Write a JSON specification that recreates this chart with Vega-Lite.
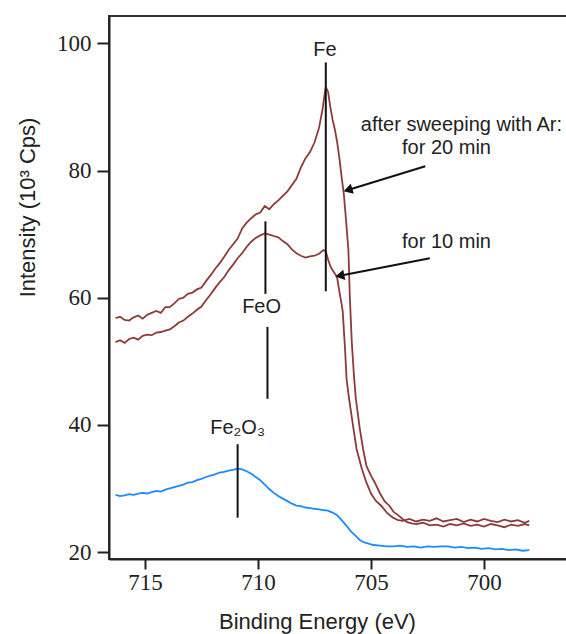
{
  "$schema": "https://vega.github.io/schema/vega-lite/v6.json",
  "autosize": "none",
  "padding": {"left": 109, "top": 16, "right": 0, "bottom": 75},
  "width": 458,
  "height": 543,
  "background": "white",
  "config": {
    "view": {"stroke": "#333", "strokeWidth": 2},
    "axis": {"grid": false, "domainColor": "#222", "domainWidth": 2, "tickColor": "#222", "tickWidth": 2, "labelFont": "Liberation Serif", "labelFontSize": 23, "labelColor": "#222", "titleFont": "Liberation Sans", "titleFontSize": 22, "titleFontWeight": "normal", "titleColor": "#222"}
  },
  "datasets": {
    "spectra": [
      {"E":716.3,"I":56.8,"s":"20 min"},{"E":716.1,"I":57.0,"s":"20 min"},{"E":715.9,"I":56.5,"s":"20 min"},{"E":715.7,"I":56.4,"s":"20 min"},{"E":715.5,"I":56.9,"s":"20 min"},{"E":715.3,"I":57.2,"s":"20 min"},{"E":715.1,"I":56.7,"s":"20 min"},{"E":714.9,"I":57.3,"s":"20 min"},{"E":714.7,"I":57.6,"s":"20 min"},{"E":714.5,"I":57.9,"s":"20 min"},{"E":714.3,"I":57.6,"s":"20 min"},{"E":714.1,"I":58.5,"s":"20 min"},{"E":713.9,"I":58.5,"s":"20 min"},{"E":713.7,"I":59.1,"s":"20 min"},{"E":713.5,"I":59.8,"s":"20 min"},{"E":713.3,"I":60.0,"s":"20 min"},{"E":713.1,"I":60.6,"s":"20 min"},{"E":712.9,"I":60.8,"s":"20 min"},{"E":712.7,"I":61.3,"s":"20 min"},{"E":712.5,"I":61.6,"s":"20 min"},{"E":712.3,"I":62.6,"s":"20 min"},{"E":712.1,"I":63.5,"s":"20 min"},{"E":711.9,"I":64.5,"s":"20 min"},{"E":711.7,"I":65.4,"s":"20 min"},{"E":711.5,"I":66.4,"s":"20 min"},{"E":711.3,"I":67.5,"s":"20 min"},{"E":711.1,"I":68.4,"s":"20 min"},{"E":710.9,"I":69.3,"s":"20 min"},{"E":710.7,"I":70.9,"s":"20 min"},{"E":710.5,"I":71.8,"s":"20 min"},{"E":710.3,"I":72.5,"s":"20 min"},{"E":710.1,"I":73.1,"s":"20 min"},{"E":709.9,"I":73.4,"s":"20 min"},{"E":709.7,"I":74.4,"s":"20 min"},{"E":709.5,"I":73.9,"s":"20 min"},{"E":709.3,"I":74.7,"s":"20 min"},{"E":709.1,"I":75.3,"s":"20 min"},{"E":708.9,"I":76.0,"s":"20 min"},{"E":708.7,"I":76.7,"s":"20 min"},{"E":708.5,"I":77.7,"s":"20 min"},{"E":708.3,"I":78.7,"s":"20 min"},{"E":708.1,"I":80.5,"s":"20 min"},{"E":707.9,"I":81.9,"s":"20 min"},{"E":707.7,"I":82.9,"s":"20 min"},{"E":707.5,"I":84.4,"s":"20 min"},{"E":707.3,"I":86.7,"s":"20 min"},{"E":707.15,"I":89.5,"s":"20 min"},{"E":707.05,"I":92.0,"s":"20 min"},{"E":707.0,"I":93.1,"s":"20 min"},{"E":706.9,"I":92.4,"s":"20 min"},{"E":706.8,"I":90.0,"s":"20 min"},{"E":706.7,"I":88.0,"s":"20 min"},{"E":706.6,"I":86.5,"s":"20 min"},{"E":706.5,"I":84.5,"s":"20 min"},{"E":706.4,"I":82.0,"s":"20 min"},{"E":706.3,"I":79.0,"s":"20 min"},{"E":706.2,"I":76.2,"s":"20 min"},{"E":706.1,"I":72.0,"s":"20 min"},{"E":706.0,"I":67.5,"s":"20 min"},{"E":705.94,"I":60.4,"s":"20 min"},{"E":705.85,"I":53.0,"s":"20 min"},{"E":705.75,"I":47.5,"s":"20 min"},{"E":705.67,"I":44.1,"s":"20 min"},{"E":705.5,"I":39.5,"s":"20 min"},{"E":705.35,"I":36.2,"s":"20 min"},{"E":705.2,"I":33.5,"s":"20 min"},{"E":705.0,"I":32.0,"s":"20 min"},{"E":704.83,"I":30.9,"s":"20 min"},{"E":704.6,"I":29.2,"s":"20 min"},{"E":704.4,"I":28.0,"s":"20 min"},{"E":704.17,"I":27.2,"s":"20 min"},{"E":704.0,"I":26.3,"s":"20 min"},{"E":703.8,"I":25.8,"s":"20 min"},{"E":703.6,"I":25.2,"s":"20 min"},{"E":703.4,"I":24.7,"s":"20 min"},{"E":703.2,"I":24.5,"s":"20 min"},{"E":703.0,"I":24.4,"s":"20 min"},{"E":702.7,"I":24.6,"s":"20 min"},{"E":702.4,"I":24.2,"s":"20 min"},{"E":702.1,"I":24.3,"s":"20 min"},{"E":701.8,"I":24.0,"s":"20 min"},{"E":701.5,"I":24.4,"s":"20 min"},{"E":701.2,"I":24.2,"s":"20 min"},{"E":700.9,"I":24.5,"s":"20 min"},{"E":700.6,"I":24.1,"s":"20 min"},{"E":700.3,"I":24.3,"s":"20 min"},{"E":700.0,"I":24.0,"s":"20 min"},{"E":699.7,"I":24.4,"s":"20 min"},{"E":699.4,"I":24.2,"s":"20 min"},{"E":699.1,"I":23.9,"s":"20 min"},{"E":698.8,"I":24.3,"s":"20 min"},{"E":698.5,"I":24.1,"s":"20 min"},{"E":698.2,"I":24.4,"s":"20 min"},{"E":698.0,"I":24.2,"s":"20 min"},

      {"E":716.3,"I":53.0,"s":"10 min"},{"E":716.1,"I":53.3,"s":"10 min"},{"E":715.9,"I":52.9,"s":"10 min"},{"E":715.7,"I":53.5,"s":"10 min"},{"E":715.5,"I":53.7,"s":"10 min"},{"E":715.3,"I":53.4,"s":"10 min"},{"E":715.1,"I":54.0,"s":"10 min"},{"E":714.9,"I":54.2,"s":"10 min"},{"E":714.7,"I":54.1,"s":"10 min"},{"E":714.5,"I":54.5,"s":"10 min"},{"E":714.3,"I":54.6,"s":"10 min"},{"E":714.1,"I":54.8,"s":"10 min"},{"E":713.9,"I":55.0,"s":"10 min"},{"E":713.7,"I":55.5,"s":"10 min"},{"E":713.5,"I":56.1,"s":"10 min"},{"E":713.3,"I":56.4,"s":"10 min"},{"E":713.1,"I":57.0,"s":"10 min"},{"E":712.9,"I":57.5,"s":"10 min"},{"E":712.7,"I":58.1,"s":"10 min"},{"E":712.5,"I":58.6,"s":"10 min"},{"E":712.3,"I":59.6,"s":"10 min"},{"E":712.1,"I":60.5,"s":"10 min"},{"E":711.9,"I":61.5,"s":"10 min"},{"E":711.7,"I":62.4,"s":"10 min"},{"E":711.5,"I":63.2,"s":"10 min"},{"E":711.3,"I":64.3,"s":"10 min"},{"E":711.1,"I":65.2,"s":"10 min"},{"E":710.9,"I":66.2,"s":"10 min"},{"E":710.7,"I":67.0,"s":"10 min"},{"E":710.5,"I":68.0,"s":"10 min"},{"E":710.3,"I":68.8,"s":"10 min"},{"E":710.1,"I":69.4,"s":"10 min"},{"E":709.9,"I":69.8,"s":"10 min"},{"E":709.7,"I":70.1,"s":"10 min"},{"E":709.5,"I":69.9,"s":"10 min"},{"E":709.3,"I":69.7,"s":"10 min"},{"E":709.1,"I":69.5,"s":"10 min"},{"E":708.9,"I":68.9,"s":"10 min"},{"E":708.7,"I":68.4,"s":"10 min"},{"E":708.5,"I":67.6,"s":"10 min"},{"E":708.3,"I":67.0,"s":"10 min"},{"E":708.1,"I":66.6,"s":"10 min"},{"E":707.9,"I":66.3,"s":"10 min"},{"E":707.7,"I":66.5,"s":"10 min"},{"E":707.5,"I":66.6,"s":"10 min"},{"E":707.3,"I":66.9,"s":"10 min"},{"E":707.1,"I":67.5,"s":"10 min"},{"E":707.0,"I":67.3,"s":"10 min"},{"E":706.9,"I":66.0,"s":"10 min"},{"E":706.8,"I":65.0,"s":"10 min"},{"E":706.7,"I":64.3,"s":"10 min"},{"E":706.6,"I":63.8,"s":"10 min"},{"E":706.5,"I":63.2,"s":"10 min"},{"E":706.4,"I":61.0,"s":"10 min"},{"E":706.3,"I":59.0,"s":"10 min"},{"E":706.25,"I":57.8,"s":"10 min"},{"E":706.15,"I":52.0,"s":"10 min"},{"E":706.08,"I":47.2,"s":"10 min"},{"E":705.97,"I":44.1,"s":"10 min"},{"E":705.8,"I":40.0,"s":"10 min"},{"E":705.64,"I":36.2,"s":"10 min"},{"E":705.4,"I":33.0,"s":"10 min"},{"E":705.2,"I":30.9,"s":"10 min"},{"E":705.0,"I":29.2,"s":"10 min"},{"E":704.8,"I":28.1,"s":"10 min"},{"E":704.53,"I":27.2,"s":"10 min"},{"E":704.3,"I":26.2,"s":"10 min"},{"E":704.03,"I":25.4,"s":"10 min"},{"E":703.8,"I":25.0,"s":"10 min"},{"E":703.6,"I":24.9,"s":"10 min"},{"E":703.3,"I":25.2,"s":"10 min"},{"E":703.0,"I":24.8,"s":"10 min"},{"E":702.7,"I":25.1,"s":"10 min"},{"E":702.4,"I":24.9,"s":"10 min"},{"E":702.1,"I":25.3,"s":"10 min"},{"E":701.8,"I":24.8,"s":"10 min"},{"E":701.5,"I":25.0,"s":"10 min"},{"E":701.2,"I":25.2,"s":"10 min"},{"E":700.9,"I":24.7,"s":"10 min"},{"E":700.6,"I":25.1,"s":"10 min"},{"E":700.3,"I":24.8,"s":"10 min"},{"E":700.0,"I":25.2,"s":"10 min"},{"E":699.7,"I":24.9,"s":"10 min"},{"E":699.4,"I":24.7,"s":"10 min"},{"E":699.1,"I":25.1,"s":"10 min"},{"E":698.8,"I":24.8,"s":"10 min"},{"E":698.5,"I":25.0,"s":"10 min"},{"E":698.2,"I":24.6,"s":"10 min"},{"E":698.0,"I":24.9,"s":"10 min"},

      {"E":716.3,"I":29.0,"s":"Fe2O3"},{"E":716.1,"I":28.8,"s":"Fe2O3"},{"E":715.9,"I":28.9,"s":"Fe2O3"},{"E":715.7,"I":29.1,"s":"Fe2O3"},{"E":715.5,"I":29.0,"s":"Fe2O3"},{"E":715.3,"I":29.2,"s":"Fe2O3"},{"E":715.1,"I":29.3,"s":"Fe2O3"},{"E":714.9,"I":29.2,"s":"Fe2O3"},{"E":714.7,"I":29.4,"s":"Fe2O3"},{"E":714.5,"I":29.6,"s":"Fe2O3"},{"E":714.3,"I":29.5,"s":"Fe2O3"},{"E":714.1,"I":29.8,"s":"Fe2O3"},{"E":713.9,"I":30.0,"s":"Fe2O3"},{"E":713.7,"I":30.2,"s":"Fe2O3"},{"E":713.5,"I":30.4,"s":"Fe2O3"},{"E":713.3,"I":30.6,"s":"Fe2O3"},{"E":713.1,"I":30.9,"s":"Fe2O3"},{"E":712.9,"I":31.0,"s":"Fe2O3"},{"E":712.7,"I":31.3,"s":"Fe2O3"},{"E":712.5,"I":31.5,"s":"Fe2O3"},{"E":712.3,"I":31.8,"s":"Fe2O3"},{"E":712.1,"I":32.0,"s":"Fe2O3"},{"E":711.9,"I":32.2,"s":"Fe2O3"},{"E":711.7,"I":32.5,"s":"Fe2O3"},{"E":711.5,"I":32.6,"s":"Fe2O3"},{"E":711.3,"I":32.8,"s":"Fe2O3"},{"E":711.1,"I":32.9,"s":"Fe2O3"},{"E":710.9,"I":33.1,"s":"Fe2O3"},{"E":710.7,"I":33.0,"s":"Fe2O3"},{"E":710.5,"I":32.7,"s":"Fe2O3"},{"E":710.3,"I":32.3,"s":"Fe2O3"},{"E":710.1,"I":31.8,"s":"Fe2O3"},{"E":709.9,"I":31.3,"s":"Fe2O3"},{"E":709.7,"I":30.6,"s":"Fe2O3"},{"E":709.5,"I":29.9,"s":"Fe2O3"},{"E":709.3,"I":29.3,"s":"Fe2O3"},{"E":709.1,"I":28.8,"s":"Fe2O3"},{"E":708.9,"I":28.4,"s":"Fe2O3"},{"E":708.7,"I":28.0,"s":"Fe2O3"},{"E":708.5,"I":27.6,"s":"Fe2O3"},{"E":708.3,"I":27.3,"s":"Fe2O3"},{"E":708.1,"I":27.2,"s":"Fe2O3"},{"E":707.9,"I":27.0,"s":"Fe2O3"},{"E":707.7,"I":26.9,"s":"Fe2O3"},{"E":707.5,"I":26.8,"s":"Fe2O3"},{"E":707.3,"I":26.7,"s":"Fe2O3"},{"E":707.1,"I":26.6,"s":"Fe2O3"},{"E":706.9,"I":26.5,"s":"Fe2O3"},{"E":706.7,"I":26.2,"s":"Fe2O3"},{"E":706.5,"I":25.8,"s":"Fe2O3"},{"E":706.3,"I":25.0,"s":"Fe2O3"},{"E":706.1,"I":24.2,"s":"Fe2O3"},{"E":705.9,"I":23.3,"s":"Fe2O3"},{"E":705.7,"I":22.6,"s":"Fe2O3"},{"E":705.5,"I":21.9,"s":"Fe2O3"},{"E":705.3,"I":21.5,"s":"Fe2O3"},{"E":705.1,"I":21.3,"s":"Fe2O3"},{"E":704.9,"I":21.1,"s":"Fe2O3"},{"E":704.6,"I":21.0,"s":"Fe2O3"},{"E":704.3,"I":20.9,"s":"Fe2O3"},{"E":704.0,"I":20.9,"s":"Fe2O3"},{"E":703.7,"I":21.0,"s":"Fe2O3"},{"E":703.4,"I":20.8,"s":"Fe2O3"},{"E":703.1,"I":20.9,"s":"Fe2O3"},{"E":702.8,"I":20.7,"s":"Fe2O3"},{"E":702.5,"I":20.9,"s":"Fe2O3"},{"E":702.2,"I":20.8,"s":"Fe2O3"},{"E":701.9,"I":20.9,"s":"Fe2O3"},{"E":701.6,"I":20.9,"s":"Fe2O3"},{"E":701.3,"I":20.7,"s":"Fe2O3"},{"E":701.0,"I":20.8,"s":"Fe2O3"},{"E":700.7,"I":20.6,"s":"Fe2O3"},{"E":700.4,"I":20.7,"s":"Fe2O3"},{"E":700.1,"I":20.5,"s":"Fe2O3"},{"E":699.8,"I":20.6,"s":"Fe2O3"},{"E":699.5,"I":20.4,"s":"Fe2O3"},{"E":699.2,"I":20.5,"s":"Fe2O3"},{"E":698.9,"I":20.3,"s":"Fe2O3"},{"E":698.6,"I":20.4,"s":"Fe2O3"},{"E":698.3,"I":20.2,"s":"Fe2O3"},{"E":698.0,"I":20.3,"s":"Fe2O3"}
    ],
    "markers": [
      {"name":"Fe","E":707.0,"lo":61.0,"hi":97.0},
      {"name":"FeO upper","E":709.67,"lo":60.6,"hi":72.0},
      {"name":"FeO lower","E":709.58,"lo":44.1,"hi":55.4},
      {"name":"Fe2O3","E":710.9,"lo":25.4,"hi":36.95}
    ],
    "arrows": [
      {"name":"20 min","E0":702.6,"I0":80.66,"E1":706.02,"I1":76.93},
      {"name":"10 min","E0":702.4,"I0":66.2,"E1":706.38,"I1":63.45}
    ],
    "labels": [
      {"t":"Fe","E":707.04,"I":98.9},
      {"t":"FeO","E":709.84,"I":58.55},
      {"t":"Fe₂O₃","E":710.9,"I":39.5},
      {"t":"after sweeping with Ar:","E":701.0,"I":87.2},
      {"t":"for 20 min","E":701.66,"I":83.55},
      {"t":"for 10 min","E":701.66,"I":68.8}
    ]
  },
  "layer": [
    {
      "data": {"name": "spectra"},
      "mark": {"type": "line", "strokeWidth": 1.8, "clip": true},
      "encoding": {
        "x": {"field": "E", "type": "quantitative", "scale": {"domain": [696.33, 716.59], "reverse": true, "nice": false, "zero": false},
          "axis": {"values": [715, 710, 705, 700], "title": "Binding Energy (eV)", "tickSize": 10, "labelPadding": 2, "titleX": 208, "titleY": 62, "titleBaseline": "middle", "titleAnchor": "start", "titleAlign": "center"}},
        "y": {"field": "I", "type": "quantitative", "scale": {"domain": [18.9, 104.3], "nice": false, "zero": false},
          "axis": {"values": [20, 40, 60, 80, 100], "title": "Intensity (10³ Cps)", "tickSize": 12, "labelPadding": 6, "titleX": -82, "titleY": 191, "titleAngle": -90, "titleBaseline": "middle", "titleAlign": "center"}},
        "color": {"field": "s", "type": "nominal", "scale": {"domain": ["20 min", "10 min", "Fe2O3"], "range": ["#8c3b3b", "#8c3b3b", "#1a8cff"]}, "legend": null},
        "detail": {"field": "s"}
      }
    },
    {
      "data": {"name": "markers"},
      "mark": {"type": "rule", "color": "#111", "strokeWidth": 2},
      "encoding": {
        "x": {"field": "E", "type": "quantitative"},
        "y": {"field": "lo", "type": "quantitative"},
        "y2": {"field": "hi"}
      }
    },
    {
      "data": {"name": "arrows"},
      "mark": {"type": "rule", "color": "#111", "strokeWidth": 2},
      "encoding": {
        "x": {"field": "E0", "type": "quantitative"},
        "y": {"field": "I0", "type": "quantitative"},
        "x2": {"field": "E1"},
        "y2": {"field": "I1"}
      }
    },
    {
      "data": {"name": "arrows"},
      "transform": [{"filter": "datum.name === '20 min'"}],
      "mark": {"type": "point", "shape": "triangle-left", "filled": true, "color": "#111", "opacity": 1, "size": 110, "angle": 343},
      "encoding": {
        "x": {"field": "E1", "type": "quantitative"},
        "y": {"field": "I1", "type": "quantitative"}
      }
    },
    {
      "data": {"name": "arrows"},
      "transform": [{"filter": "datum.name === '10 min'"}],
      "mark": {"type": "point", "shape": "triangle-left", "filled": true, "color": "#111", "opacity": 1, "size": 110, "angle": 349},
      "encoding": {
        "x": {"field": "E1", "type": "quantitative"},
        "y": {"field": "I1", "type": "quantitative"}
      }
    },
    {
      "data": {"name": "labels"},
      "mark": {"type": "text", "font": "Liberation Sans", "fontSize": 20, "color": "#222", "align": "center", "baseline": "middle"},
      "encoding": {
        "x": {"field": "E", "type": "quantitative"},
        "y": {"field": "I", "type": "quantitative"},
        "text": {"field": "t"}
      }
    }
  ]
}
